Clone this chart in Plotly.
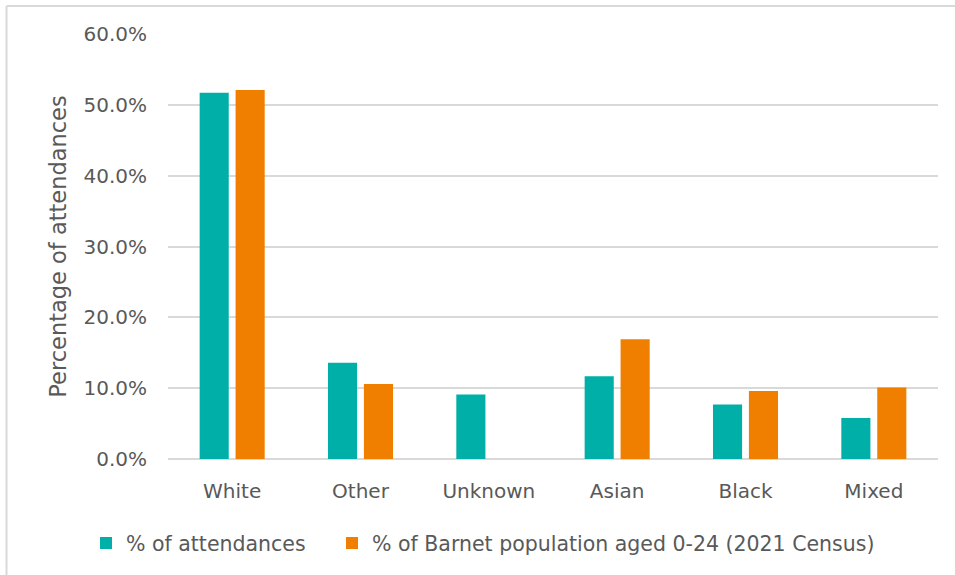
import plotly.graph_objects as go

# Ethnic group categories and the two series (percent)
categories = ["White", "Other", "Unknown", "Asian", "Black", "Mixed"]
attendances = [51.7, 13.6, 9.1, 11.7, 7.7, 5.8]
census_0_24 = [52.1, 10.6, None, 16.9, 9.6, 10.1]
series_names = ["% of attendances", "% of Barnet population aged 0-24 (2021 Census)"]
y_ticks = [0, 10, 20, 30, 40, 50, 60]

TEAL = "#00B0A8"
ORANGE = "#F07F00"
GRID = "#D9D9D9"
TEXT = "#595959"
FONT = "DejaVu Sans"

fig = go.Figure()
fig.add_trace(go.Bar(x=categories, y=attendances, name=series_names[0],
                     marker=dict(color=TEAL, line=dict(width=0)), legend="legend"))
fig.add_trace(go.Bar(x=categories, y=census_0_24, name=series_names[1],
                     marker=dict(color=ORANGE, line=dict(width=0)), legend="legend2"))

legend_common = dict(orientation="h", xanchor="left", y=-0.198, yanchor="middle",
                     font=dict(family=FONT, size=20.5, color=TEXT),
                     bgcolor="rgba(0,0,0,0)")

fig.update_layout(
    width=955, height=575,
    margin=dict(l=168, r=17, t=34, b=116),
    paper_bgcolor="white", plot_bgcolor="white",
    barmode="group", bargap=0.44, bargroupgap=0.19,
    font=dict(family=FONT, size=20, color=TEXT),
    showlegend=True,
    legend=dict(x=-0.1065, **legend_common),
    legend2=dict(x=0.213, **legend_common),
    shapes=[
        dict(type="line", xref="paper", yref="paper", x0=-0.2097, x1=1.0221, y0=1.066, y1=1.066,
             line=dict(color=GRID, width=2)),
        dict(type="line", xref="paper", yref="paper", x0=-0.2097, x1=-0.2097, y0=-0.3, y1=1.066,
             line=dict(color=GRID, width=2)),
    ],
)

fig.update_xaxes(showline=False, ticks="", ticklabelstandoff=18,
                 tickfont=dict(family=FONT, size=20, color=TEXT))
fig.update_yaxes(range=[0, 60], tickvals=y_ticks,
                 ticktext=[f"{v:.1f}%" for v in y_ticks],
                 showgrid=True, gridcolor=GRID, gridwidth=1.5,
                 zeroline=True, zerolinecolor=GRID, zerolinewidth=1.5,
                 showline=False, ticks="", ticklabelstandoff=20,
                 tickfont=dict(family=FONT, size=20, color=TEXT),
                 title=dict(text="Percentage of attendances", standoff=10,
                            font=dict(family=FONT, size=22.5, color=TEXT)))

fig.write_html("out.html")
